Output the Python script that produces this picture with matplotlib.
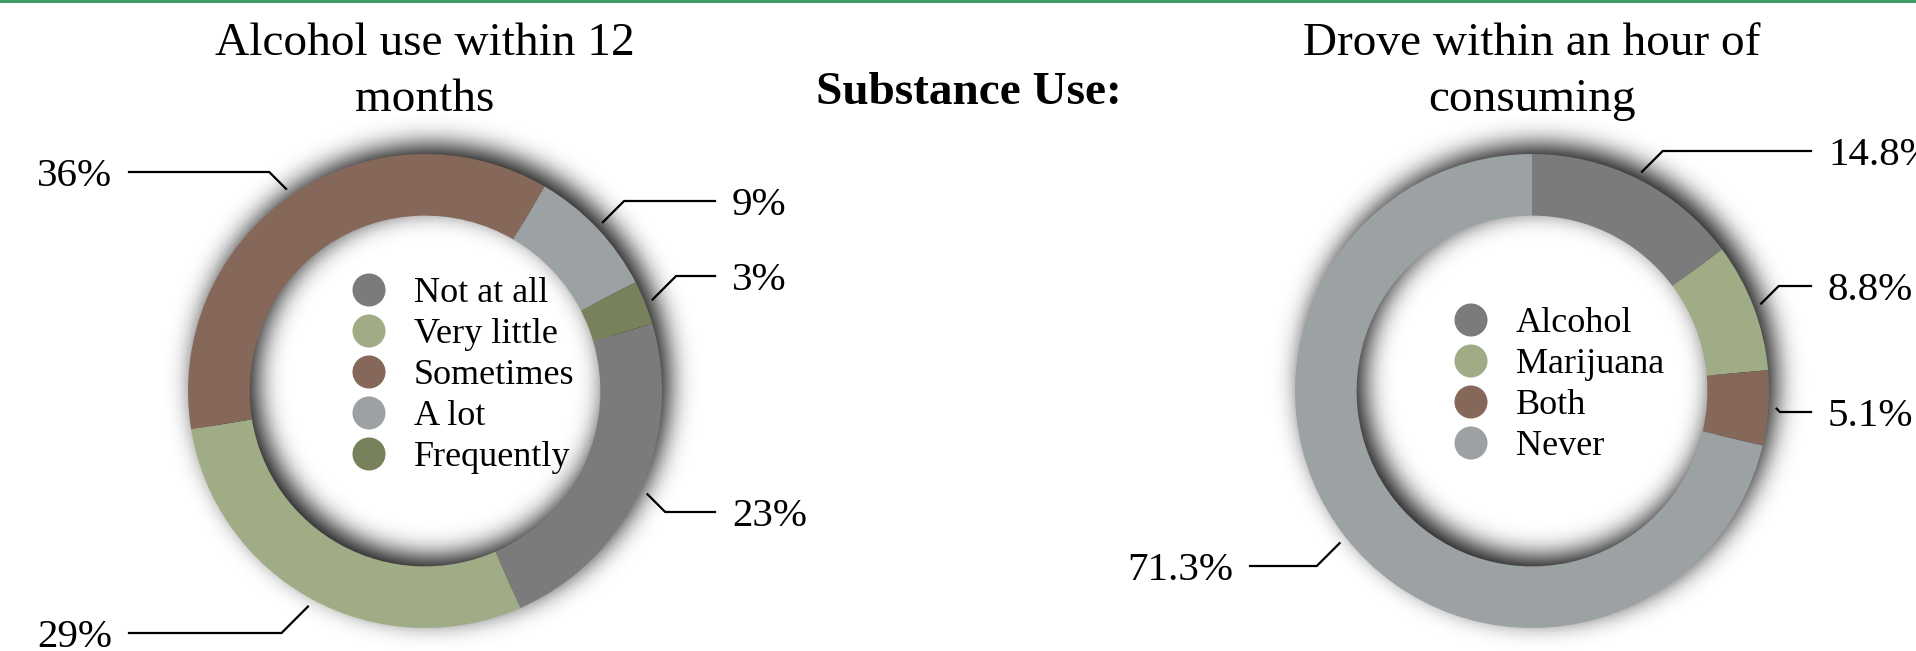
import numpy as np
import matplotlib
matplotlib.use("Agg")
import matplotlib.pyplot as plt

W, H = 1916, 651
FONT = "Liberation Serif"

# data
alc_title = ["Alcohol use within 12", "months"]
alc_labels = ["Not at all", "Very little", "Sometimes", "A lot", "Frequently"]
alc_values = [23, 29, 36, 9, 3]

drive_title = ["Drove within an hour of", "consuming"]
drive_labels = ["Alcohol", "Marijuana", "Both", "Never"]
drive_values = [14.8, 8.8, 5.1, 71.3]

# colours (paper texture left out)
alc_colors = ["#7b7b7b", "#a0ac86", "#86685a", "#9ca1a3", "#77815a"]
drive_colors = ["#7b7b7b", "#a0ac86", "#86685a", "#9ca1a3"]

R = 237          # outer radius, px
S = 700          # pie axes size, px
L = S / 2 / R    # half extent in data units

fig = plt.figure(figsize=(W / 100, H / 100), dpi=100)
fig.patch.set_facecolor("white")

ov = fig.add_axes([0, 0, 1, 1], zorder=5)
ov.set_xlim(0, W)
ov.set_ylim(H, 0)
ov.axis("off")
ov.axhline(1, color="#3f9a66", lw=2.2)


def ring_shadow(ax, r_in, off, sigma):
    n = S
    g = np.linspace(-L, L, n)
    X, Y = np.meshgrid(g, g)
    d = np.hypot(X - off[0], Y - off[1])
    m = ((d <= 1) & (d >= r_in)).astype(float)
    t = np.arange(-3 * sigma, 3 * sigma + 1)
    k = np.exp(-0.5 * (t / sigma) ** 2)
    k /= k.sum()
    m = np.apply_along_axis(lambda v: np.convolve(v, k, mode="same"), 0, m)
    m = np.apply_along_axis(lambda v: np.convolve(v, k, mode="same"), 1, m)
    rgba = np.zeros((n, n, 4))
    rgba[..., 3] = np.clip(m * 0.95, 0, 1)
    ax.imshow(rgba, extent=(-L, L, -L, L), origin="lower", zorder=0,
              interpolation="bilinear")


def donut(cx, cy, values, colors, labels, start, title, lab_pos, leg_x, leg_y):
    ax = fig.add_axes([(cx - S / 2) / W, (H - cy - S / 2) / H, S / W, S / H])
    ring_shadow(ax, 1 - 0.26, (7 / R, 9 / R), 13)
    wedges, _ = ax.pie(values, colors=colors, startangle=start, counterclock=False,
                       radius=1, wedgeprops=dict(width=0.26, linewidth=0))
    ax.set_xlim(-L, L)
    ax.set_ylim(-L, L)
    ax.axis("off")

    # titles
    ov.text(cx, 55, title[0], ha="center", va="baseline", fontsize=34, family=FONT)
    ov.text(cx, 111, title[1], ha="center", va="baseline", fontsize=34, family=FONT)

    # percentage labels with leader lines
    for w, v, (tx, ty) in zip(wedges, values, lab_pos):
        a = np.deg2rad((w.theta1 + w.theta2) / 2)
        sx = cx + 1.035 * R * np.cos(a)
        sy = cy - 1.035 * R * np.sin(a)
        right = tx > cx
        sgn = 1 if right else -1
        ex = sx + sgn * abs(ty - sy)
        lx = tx - 17 if right else tx + 17
        ov.plot([sx, ex, lx], [sy, ty, ty], color="black", lw=1.6,
                solid_joinstyle="miter")
        ov.text(tx, ty + 14, f"{v:g}%", ha="left" if right else "right",
                va="baseline", fontsize=29.5, family=FONT)

    # legend inside the hole
    for i, (lab, col) in enumerate(zip(labels, colors)):
        y = leg_y + i * 41
        ov.scatter([leg_x], [y], s=33 ** 2 * 0.52, color=col, edgecolors="none")
        ov.text(leg_x + 45, y + 12, lab, ha="left", va="baseline",
                fontsize=26, family=FONT)


donut(425, 391, alc_values, alc_colors, alc_labels, 16.5, alc_title,
      [(732, 512), (112, 633), (112, 172), (732, 201), (732, 276)], 369, 290)
donut(1532, 391, drive_values, drive_colors, drive_labels, 90, drive_title,
      [(1828, 151), (1828, 286), (1828, 412), (1233, 566)], 1471, 320)

ov.text(969, 104, "Substance Use:", ha="center", va="baseline", fontsize=34,
        fontweight="bold", family=FONT)

fig.savefig("out.png", dpi=100, facecolor="white")
